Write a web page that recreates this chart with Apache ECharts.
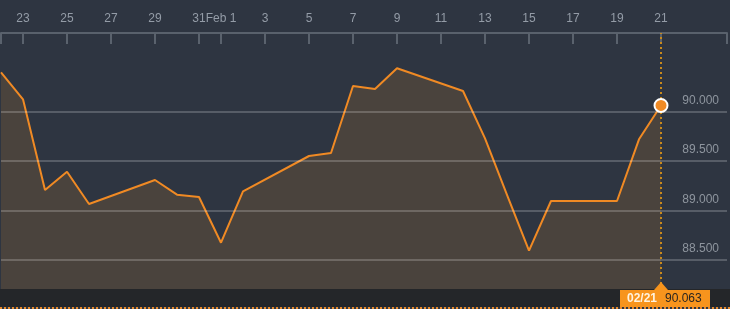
<!DOCTYPE html>
<html>
<head>
<meta charset="utf-8">
<script src="https://cdn.jsdelivr.net/npm/echarts@6/dist/echarts.min.js"></script>
<style>
html,body{margin:0;padding:0;background:#2e3541;}
#c{width:730px;height:309px;}
</style>
</head>
<body>
<div id="c"></div>
<script>
// ---- data ----
const dates = ['2024-01-22','2024-01-23','2024-01-24','2024-01-25','2024-01-26',
  '2024-01-29','2024-01-30','2024-01-31','2024-02-01','2024-02-02',
  '2024-02-05','2024-02-06','2024-02-07','2024-02-08','2024-02-09',
  '2024-02-12','2024-02-13','2024-02-14','2024-02-15','2024-02-16',
  '2024-02-19','2024-02-20','2024-02-21'];
const values = [90.398,90.125,89.208,89.393,89.067,
  89.309,89.161,89.138,88.675,89.195,
  89.552,89.582,90.260,90.230,90.439,
  90.209,89.731,89.158,88.595,89.097,
  89.097,89.721,90.063];
const tickDates = ['2024-01-23','2024-01-25','2024-01-27','2024-01-29','2024-01-31','2024-02-01',
  '2024-02-03','2024-02-05','2024-02-07','2024-02-09','2024-02-11','2024-02-13',
  '2024-02-15','2024-02-17','2024-02-19','2024-02-21'];
const tickLabels = ['23','25','27','29','31','Feb 1','3','5','7','9','11','13','15','17','19','21'];
const yTicks = [88.5, 89.0, 89.5, 90.0];
const axisStart = '2024-01-22';
const axisEnd = '2024-02-24';

// ---- helpers ----
const DAY = 86400000;
const t0 = Date.parse(axisStart + 'T00:00:00Z');
const idx = d => Math.round((Date.parse(d + 'T00:00:00Z') - t0) / DAY);
const xs = dates.map(idx);
const tickIdx = tickDates.map(idx);
const xMax = idx(axisEnd);
const seriesData = xs.map((x, i) => [x, values[i]]);
const lastI = values.length - 1;
const lastDate = dates[lastI];
const badgeDate = lastDate.slice(5, 7) + '/' + lastDate.slice(8, 10);
const labelFor = {};
tickIdx.forEach((x, i) => labelFor[x] = tickLabels[i]);

const ORANGE = '#f08a24';
const chart = echarts.init(document.getElementById('c'), null, {renderer: 'canvas'});

chart.setOption({
  backgroundColor: '#2e3541',
  animation: false,
  grid: {left: 1, right: 3, top: 33, bottom: 20, containLabel: false},
  xAxis: {
    type: 'value', position: 'top', min: 0, max: xMax,
    splitLine: {show: false},
    axisLine: {show: true, lineStyle: {color: '#59616c', width: 2}},
    axisTick: {show: true, inside: true, length: 11, customValues: [0].concat(tickIdx, [xMax]),
      lineStyle: {color: '#5a626d', width: 2}},
    axisLabel: {show: true, customValues: tickIdx, margin: 8, color: '#949ca7',
      fontFamily: 'Liberation Sans, Arial, sans-serif', fontSize: 12,
      formatter: v => labelFor[Math.round(v)] || ''}
  },
  yAxis: {
    type: 'value', min: 88.207, max: 90.796, show: false,
    splitLine: {show: false}
  },
  series: [{
    type: 'line', data: seriesData, showSymbol: false, symbol: 'none',
    lineStyle: {color: ORANGE, width: 2},
    areaStyle: {color: '#4a433d', opacity: 1, origin: 'start'},
    z: 2,
    markLine: {
      silent: true, symbol: 'none', animation: false,
      data: yTicks.map(v => ({yAxis: v, lineStyle: {color: 'rgba(255,255,255,0.2)', width: 2, type: 'solid'},
        label: {show: true, position: 'insideEndTop', distance: [8, 5], color: '#8e959e',
          fontFamily: 'Liberation Sans, Arial, sans-serif', fontSize: 12,
          formatter: v.toFixed(3)}})).concat([
        {xAxis: xs[lastI], lineStyle: {color: '#c98a1c', width: 2, type: [2, 3]}, label: {show: false}}
      ])
    }
  }, {
    type: 'scatter', data: [seriesData[lastI]], symbol: 'circle', symbolSize: 13,
    itemStyle: {color: ORANGE, borderColor: '#ffffff', borderWidth: 2, opacity: 1}, z: 5
  }]
});

// bottom band and badge, positioned from axis scales
const p = chart.convertToPixel({gridIndex: 0}, [xs[lastI], 88.207]);
const bx = p[0], by = p[1];
const W = 730;
chart.setOption({
  graphic: [
    {type: 'rect', shape: {x: 0, y: by, width: W, height: 18}, style: {fill: '#242629'}, z: 10},
    {type: 'line', shape: {x1: 0, y1: by + 19, x2: W, y2: by + 19},
      style: {stroke: '#e88a2a', lineWidth: 2, lineDash: [2, 2]}, z: 10},
    {type: 'polygon', shape: {points: [[bx - 7, by + 1], [bx, by - 7], [bx + 7, by + 1]]}, style: {fill: '#f7941d'}, z: 11},
    {type: 'rect', shape: {x: bx - 41, y: by + 1, width: 90, height: 17}, style: {fill: '#f7941d'}, z: 11},
    {type: 'text', x: bx - 34, y: by + 10, style: {text: badgeDate, fill: '#fff3df', font: 'bold 12px "Liberation Sans", Arial, sans-serif', verticalAlign: 'middle'}, z: 12},
    {type: 'text', x: bx + 4, y: by + 10, style: {text: values[lastI].toFixed(3), fill: '#2a2520', font: '12px "Liberation Sans", Arial, sans-serif', verticalAlign: 'middle'}, z: 12}
  ]
});
</script>
</body>
</html>
